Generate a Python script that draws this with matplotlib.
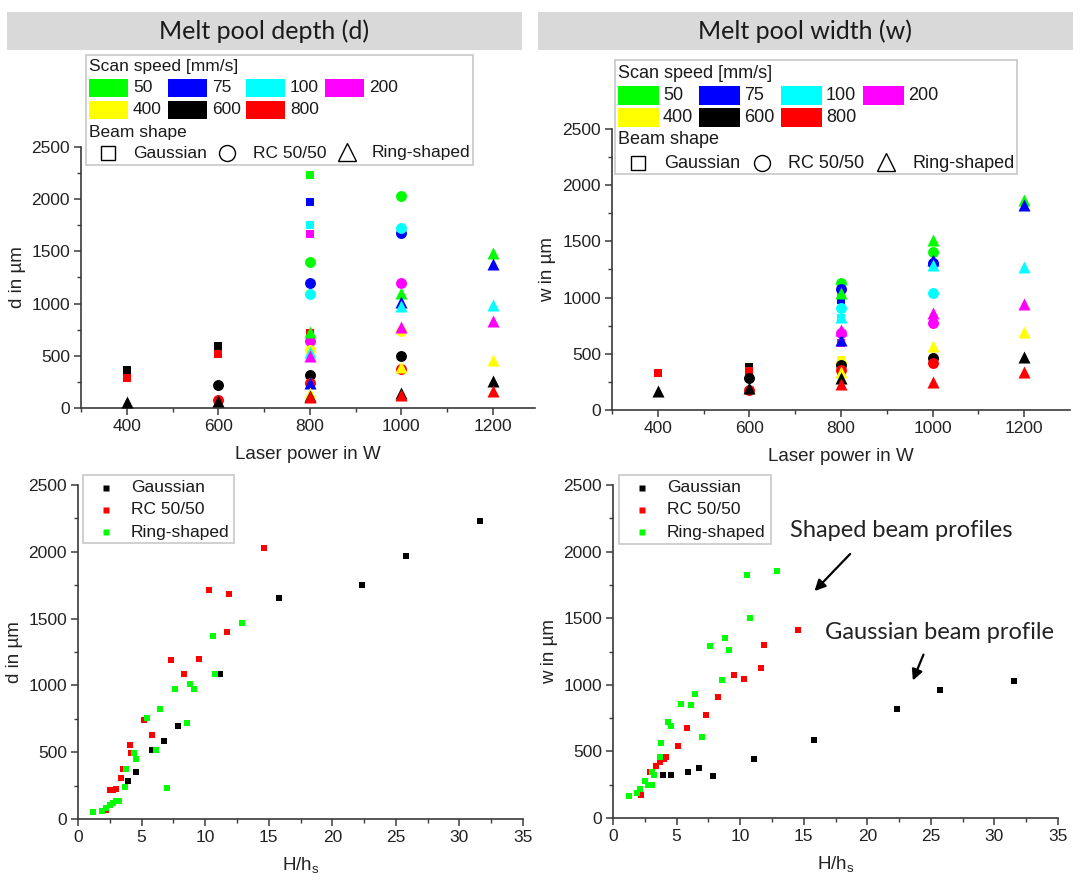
import matplotlib
matplotlib.use("Agg")
import matplotlib.pyplot as plt
from matplotlib.patches import Rectangle
from matplotlib.lines import Line2D

plt.rcParams['font.family'] = ['Liberation Sans', 'DejaVu Sans']
plt.rcParams['mathtext.fontset'] = 'custom'
plt.rcParams['mathtext.rm'] = 'Liberation Sans'

# ---------------- data ----------------
speeds = [50, 75, 100, 200, 400, 600, 800]
speed_colors = {50: '#00ff00', 75: '#0000ff', 100: '#00ffff', 200: '#ff00ff',
                400: '#ffff00', 600: '#000000', 800: '#ff0000'}
beams = ['Gaussian', 'RC 50/50', 'Ring-shaped']
beam_markers = {'Gaussian': 's', 'RC 50/50': 'o', 'Ring-shaped': '^'}

# Melt pool depth vs laser power
d_power = [400, 400, 600, 600, 800, 800, 800, 800, 800, 800,
           600, 600, 800, 800, 800, 800, 800, 800, 800,
           1000, 1000, 1000, 1000, 1000, 1000, 1000,
           400, 600, 800, 800, 800, 800, 800, 800, 800,
           1000, 1000, 1000, 1000, 1000, 1000, 1000,
           1200, 1200, 1200, 1200, 1200, 1200, 1200]
d_value = [366, 287, 596, 519, 2236, 1971, 1755, 1663, 1090, 717,
           217, 80, 1401, 1194, 1089, 637, 557, 312, 235,
           2029, 1678, 1720, 1194, 740, 500, 373,
           60, 65, 732, 239, 532, 500, 143, 115, 102,
           1099, 1019, 978, 774, 390, 143, 127,
           1481, 1376, 984, 838, 462, 255, 159]
d_speed = [600, 800, 600, 800, 50, 75, 100, 200, 400, 800,
           600, 800, 50, 75, 100, 200, 400, 600, 800,
           50, 75, 100, 200, 400, 600, 800,
           600, 600, 50, 75, 100, 200, 400, 600, 800,
           50, 75, 100, 200, 400, 600, 800,
           50, 75, 100, 200, 400, 600, 800]
d_beam = (['Gaussian'] * 10 + ['RC 50/50'] * 16 + ['Ring-shaped'] * 23)

# Melt pool width vs laser power
w_power = [400, 600, 600, 800, 800, 800, 800, 800, 800,
           600, 600, 800, 800, 800, 800, 800, 800, 800,
           1000, 1000, 1000, 1000, 1000, 1000,
           400, 600, 800, 800, 800, 800, 800, 800, 800,
           1000, 1000, 1000, 1000, 1000, 1000,
           1200, 1200, 1200, 1200, 1200, 1200, 1200]
w_value = [326, 386, 350, 1028, 979, 818, 593, 445, 318,
           282, 178, 1127, 1074, 911, 682, 415, 400, 356,
           1409, 1305, 1038, 771, 460, 415,
           172, 199, 1044, 623, 830, 712, 341, 282, 228,
           1513, 1335, 1290, 860, 569, 252,
           1869, 1824, 1269, 940, 697, 469, 341]
w_speed = [800, 600, 800, 50, 75, 100, 200, 400, 800,
           600, 800, 50, 75, 100, 200, 400, 600, 800,
           50, 75, 100, 200, 600, 800,
           600, 600, 50, 75, 100, 200, 400, 600, 800,
           50, 75, 100, 200, 400, 800,
           50, 75, 100, 200, 400, 600, 800]
w_beam = (['Gaussian'] * 9 + ['RC 50/50'] * 15 + ['Ring-shaped'] * 22)

# Depth vs H/hs
dh_gauss_x = [31.6, 25.8, 22.3, 15.8, 11.2, 7.9, 6.8, 5.85, 4.56, 3.93]
dh_gauss_y = [2233, 1969, 1754, 1657, 1083, 699, 584, 516, 354, 282]
dh_rc_x = [14.6, 10.3, 11.9, 11.7, 7.3, 9.5, 8.3, 5.2, 5.85, 4.1, 4.2, 3.55, 3.36,
           2.5, 2.75, 2.96, 2.2, 3.7]
dh_rc_y = [2026, 1714, 1682, 1400, 1193, 1195, 1085, 741, 631, 554, 497, 372, 309,
           217, 220, 222, 67, 375]
dh_ring_x = [12.9, 10.6, 10.8, 7.6, 8.8, 9.15, 6.45, 5.4, 8.6, 6.1, 4.4, 4.56, 3.8,
             3.72, 7.03, 3.22, 3.0, 2.75, 2.5, 2.2, 1.9, 1.2]
dh_ring_y = [1465, 1370, 1083, 976, 1013, 973, 821, 758, 719, 516, 492, 447, 372,
             242, 230, 137, 132, 117, 102, 85, 60, 55]

# Width vs H/hs
wh_gauss_x = [31.5, 25.75, 22.3, 15.8, 11.1, 7.9, 6.8, 5.9, 4.55, 3.95]
wh_gauss_y = [1028, 958, 818, 588, 440, 318, 373, 345, 320, 320]
wh_rc_x = [14.55, 11.9, 11.65, 9.5, 10.3, 8.25, 7.3, 5.8, 5.15, 4.2, 4.05, 3.67,
           3.36, 2.9, 2.2]
wh_rc_y = [1408, 1300, 1125, 1073, 1045, 910, 775, 675, 540, 460, 443, 418,
           393, 348, 175]
wh_ring_x = [12.9, 10.55, 10.75, 8.8, 7.6, 9.1, 8.6, 6.45, 5.35, 6.1, 4.3, 4.55,
             7.0, 3.78, 3.67, 3.1, 3.2, 2.5, 3.1, 2.75, 2.1, 1.85, 1.25]
wh_ring_y = [1858, 1828, 1503, 1350, 1293, 1263, 1038, 933, 858, 845, 718, 688,
             610, 560, 460, 345, 325, 280, 250, 250, 218, 188, 163]

# ---------------- figure ----------------
W, H = 1080, 889
fig = plt.figure(figsize=(W / 100, H / 100), dpi=100)


def px_axes(l, t, r, b, **kw):
    return fig.add_axes([l / W, 1 - b / H, (r - l) / W, (b - t) / H], **kw)


SPINE = '#3a3a3a'


def style_axes(ax, xlim, xmajor, xminor):
    ax.set_xlim(*xlim)
    ax.set_ylim(0, 2500)
    ax.set_xticks(xmajor)
    ax.set_xticks(xminor, minor=True)
    ax.set_yticks([0, 500, 1000, 1500, 2000, 2500])
    ax.set_yticks([250, 750, 1250, 1750, 2250], minor=True)
    for s in ['top', 'right']:
        ax.spines[s].set_visible(False)
    for s in ['left', 'bottom']:
        ax.spines[s].set_color(SPINE)
        ax.spines[s].set_linewidth(1.2)
    ax.tick_params(which='major', direction='out', length=5, width=1.1,
                   color=SPINE, labelsize=12.5, labelcolor='#222222', pad=3)
    ax.tick_params(which='minor', direction='out', length=3, width=1.0, color=SPINE)
    ax.set_facecolor('none')


ax_tl = px_axes(81, 147, 535, 408)
ax_tr = px_axes(612, 129, 1070, 410)
ax_bl = px_axes(78, 485, 523, 819)
ax_br = px_axes(613, 485, 1058, 818)

top_major = [400, 600, 800, 1000, 1200]
top_minor = [300, 500, 700, 900, 1100, 1300]
style_axes(ax_tl, (300, 1292), top_major, top_minor[:-1])
style_axes(ax_tr, (300, 1300), top_major, top_minor[:-1])
bot_major = [0, 5, 10, 15, 20, 25, 30, 35]
bot_minor = [2.5, 7.5, 12.5, 17.5, 22.5, 27.5, 32.5]
style_axes(ax_bl, (0, 35), bot_major, bot_minor)
style_axes(ax_br, (0, 35), bot_major, bot_minor)

marker_size = {'s': 40, 'o': 62, '^': 75}


def plot_top(ax, power, value, speed, beam):
    for b in beams:
        m = beam_markers[b]
        for sp in speeds:
            xs = [p for p, v, s, bb in zip(power, value, speed, beam) if s == sp and bb == b]
            ys = [v for p, v, s, bb in zip(power, value, speed, beam) if s == sp and bb == b]
            if xs:
                ax.scatter(xs, ys, marker=m, s=marker_size[m], c=speed_colors[sp],
                           linewidths=0, clip_on=False, zorder=3)


plot_top(ax_tl, d_power, d_value, d_speed, d_beam)
plot_top(ax_tr, w_power, w_value, w_speed, w_beam)

for ax, gx, gy, rx, ry, ggx, ggy in [
        (ax_bl, dh_gauss_x, dh_gauss_y, dh_rc_x, dh_rc_y, dh_ring_x, dh_ring_y),
        (ax_br, wh_gauss_x, wh_gauss_y, wh_rc_x, wh_rc_y, wh_ring_x, wh_ring_y)]:
    ax.scatter(gx, gy, marker='s', s=22, c='#000000', linewidths=0, zorder=3, clip_on=False)
    ax.scatter(rx, ry, marker='s', s=22, c='#ff0000', linewidths=0, zorder=3, clip_on=False)
    ax.scatter(ggx, ggy, marker='s', s=22, c='#00ff00', linewidths=0, zorder=3, clip_on=False)

# axis labels
lab_kw = dict(fontsize=13.5, color='#222222')
ax_tl.set_xlabel('Laser power in W', **lab_kw)
ax_tr.set_xlabel('Laser power in W', **lab_kw)
ax_bl.set_xlabel(r'H/h$_{\mathregular{s}}$', **lab_kw)
ax_br.set_xlabel(r'H/h$_{\mathregular{s}}$', **lab_kw)
ax_tl.set_ylabel('d in µm', **lab_kw)
ax_tr.set_ylabel('w in µm', **lab_kw)
ax_bl.set_ylabel('d in µm', **lab_kw)
ax_br.set_ylabel('w in µm', **lab_kw)
for ax, xy, yy in [(ax_tl, -0.18, -0.139), (ax_tr, -0.167, -0.14),
                   (ax_bl, -0.141, -0.142), (ax_br, -0.141, -0.142)]:
    ax.xaxis.set_label_coords(0.5, xy)
    ax.xaxis.label.set_va('center')
    ax.yaxis.set_label_coords(yy, 0.5)
    ax.yaxis.label.set_va('center')

# annotations in width vs H/hs panel
ann_font = ['Lato', 'DejaVu Sans']
ax_br.annotate('', xy=(15.7, 1689), xytext=(18.8, 1997),
               arrowprops=dict(arrowstyle='-|>', color='black', lw=1.6, mutation_scale=16))
ax_br.annotate('', xy=(23.5, 1013), xytext=(24.5, 1246),
               arrowprops=dict(arrowstyle='-|>', color='black', lw=1.6, mutation_scale=16))
ax_br.text(13.9, 2155, 'Shaped beam profiles', family=ann_font, fontsize=17,
           color='#222222', va='center', ha='left')
ax_br.text(16.7, 1396, 'Gaussian beam profile', family=ann_font, fontsize=17,
           color='#222222', va='center', ha='left')

# ---------------- overlay (headers + legends) in pixel coords ----------------
ov = fig.add_axes([0, 0, 1, 1], zorder=10)
ov.set_xlim(0, W)
ov.set_ylim(H, 0)
ov.axis('off')
ov.set_facecolor('none')

for (l, r, title) in [(7, 522, 'Melt pool depth (d)'), (538, 1073, 'Melt pool width (w)')]:
    ov.add_patch(Rectangle((l, 12), r - l, 38, facecolor='#d9d9d9', edgecolor='none'))
    ov.text((l + r) / 2, 31, title, family=['Lato', 'DejaVu Sans'], fontsize=18,
            color='#1a1a1a', ha='center', va='center')


def speed_legend(box, cols, pw, toff, rows, ph, title_y, beam_y, shape_y,
                 mk_x, txt_x, fs):
    x0, y0, x1, y1 = box
    ov.add_patch(Rectangle((x0, y0), x1 - x0, y1 - y0, facecolor='white',
                           edgecolor='#c8c8c8', lw=1.2))
    ov.text(cols[0], title_y, 'Scan speed [mm/s]', fontsize=fs, ha='left',
            va='center', color='#1a1a1a')
    for i, sp in enumerate(speeds):
        cx = cols[i % 4]
        ry = rows[i // 4]
        ov.add_patch(Rectangle((cx, ry - ph / 2), pw, ph, facecolor=speed_colors[sp],
                               edgecolor='none'))
        ov.text(cx + toff, ry, str(sp), fontsize=fs, ha='left', va='center',
                color='#1a1a1a')
    ov.text(cols[0], beam_y, 'Beam shape', fontsize=fs, ha='left', va='center',
            color='#1a1a1a')
    for b, mx, tx in zip(beams, mk_x, txt_x):
        m = beam_markers[b]
        ms = {'s': 10.5, 'o': 11.5, '^': 13}[m]
        ov.plot([mx], [shape_y - (1 if m == '^' else 0)], marker=m, ms=ms,
                mfc='white', mec='black', mew=1.0, ls='none')
        ov.text(tx, shape_y, b, fontsize=fs, ha='left', va='center', color='#1a1a1a')


speed_legend((86, 55, 473, 165), [89, 168, 246, 325], 39, 44, [88, 110], 18,
             67, 132, 153, [108, 227, 347], [133, 253, 372], 12.5)
speed_legend((615, 60, 1017, 174), [618, 699, 781, 863], 41, 45, [95, 117], 19,
             73, 140, 163, [638, 762, 886], [664, 788, 912], 13)


def shape_legend(box, mk_x, txt_x, rows, fs):
    x0, y0, x1, y1 = box
    ov.add_patch(Rectangle((x0, y0), x1 - x0, y1 - y0, facecolor='white',
                           edgecolor='#c8c8c8', lw=1.2))
    for b, col, ry in zip(beams, ['#000000', '#ff0000', '#00ff00'], rows):
        ov.plot([mk_x], [ry], marker='s', ms=4.2, mfc=col, mec='none', ls='none')
        ov.text(txt_x, ry, b, fontsize=fs, ha='left', va='center', color='#1a1a1a')


shape_legend((83, 475, 234, 543), 106, 131, [488, 510, 532], 12.5)
shape_legend((619, 475, 771, 544), 642, 667, [488, 510, 532], 12.5)

fig.savefig('out.png', dpi=100, facecolor='white')
